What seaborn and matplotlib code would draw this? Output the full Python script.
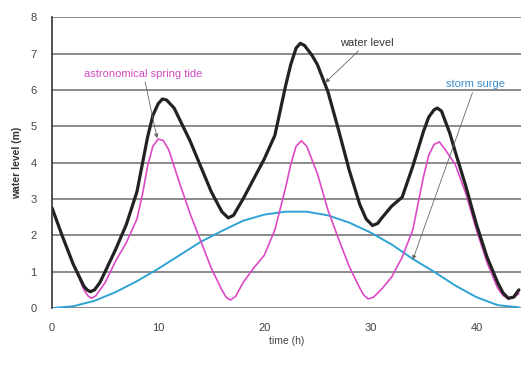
import matplotlib
matplotlib.use("Agg")
import matplotlib.pyplot as plt
import seaborn as sns
import pandas as pd

# ---- data ----
hours_tide = [0, 1, 2, 3, 3.4, 3.7, 4.1, 5, 6, 7, 8, 8.5, 9, 9.5, 10, 10.5, 11, 12, 13, 14, 15, 16, 16.4, 16.8, 17.3,
              18, 19, 20, 21, 22, 22.5, 23, 23.5, 24, 25, 26, 27, 28, 29, 29.4, 29.8, 30.3,
              31, 32, 33, 34, 35, 35.5, 36, 36.5, 37, 38, 39, 40, 41, 42, 42.5, 43, 43.5, 44]
tide = [2.75, 1.95, 1.2, 0.5, 0.33, 0.27, 0.33, 0.7, 1.3, 1.8, 2.45, 3.1, 3.9, 4.45, 4.65, 4.6, 4.35, 3.45, 2.6, 1.85, 1.1, 0.5, 0.3, 0.22, 0.32,
        0.7, 1.1, 1.45, 2.15, 3.3, 3.95, 4.45, 4.6, 4.45, 3.7, 2.7, 1.9, 1.15, 0.55, 0.35, 0.25, 0.3,
        0.5, 0.85, 1.4, 2.15, 3.6, 4.2, 4.5, 4.57, 4.38, 3.95, 3.15, 2.15, 1.25, 0.55, 0.35, 0.25, 0.28, 0.4]

hours_level = [0, 1, 2, 3, 3.3, 3.6, 4.0, 4.5, 5, 6, 7, 8, 9, 9.5, 10, 10.4, 10.8, 11.5, 12, 13, 14, 15, 16, 16.6, 17.1,
               17.5, 18, 19, 20, 21, 22, 22.5, 23, 23.4, 23.8, 24.5, 25, 26, 27, 28, 29, 29.6, 30.2, 30.7,
               31, 32, 33, 34, 35, 35.5, 36, 36.3, 36.7, 37.5, 38, 39, 40, 41, 42, 42.5, 43, 43.5, 44]
level = [2.75, 1.95, 1.2, 0.6, 0.5, 0.45, 0.5, 0.7, 1.0, 1.62, 2.3, 3.2, 4.7, 5.3, 5.62, 5.75, 5.72, 5.5, 5.2, 4.6, 3.9, 3.2, 2.65, 2.48, 2.55,
         2.75, 3.0, 3.55, 4.1, 4.75, 6.1, 6.7, 7.15, 7.28, 7.22, 6.95, 6.7, 5.95, 4.9, 3.8, 2.85, 2.45, 2.27, 2.33,
         2.45, 2.8, 3.05, 3.9, 4.85, 5.25, 5.45, 5.5, 5.42, 4.8, 4.3, 3.35, 2.3, 1.4, 0.7, 0.42, 0.27, 0.3, 0.5]

hours_surge = [0, 2, 4, 6, 8, 10, 12, 14, 16, 18, 20, 22, 24, 26, 28, 30, 32, 34, 36, 38, 40, 42, 44]
surge = [0, 0.05, 0.2, 0.44, 0.74, 1.08, 1.45, 1.82, 2.12, 2.4, 2.57, 2.65, 2.65, 2.55, 2.35, 2.08,
         1.75, 1.35, 1.0, 0.62, 0.3, 0.08, 0.02]

x_ticks = [0, 10, 20, 30, 40]
y_ticks = [0, 1, 2, 3, 4, 5, 6, 7, 8]
x_label = "time (h)"
y_label = "water level (m)"
label_tide = "astronomical spring tide"
label_level = "water level"
label_surge = "storm surge"

sns.set_style("white")
plt.rcParams["font.family"] = ["Liberation Sans", "DejaVu Sans"]

df_tide = pd.DataFrame({"t": hours_tide, "v": tide})
df_level = pd.DataFrame({"t": hours_level, "v": level})
df_surge = pd.DataFrame({"t": hours_surge, "v": surge})

fig = plt.figure(figsize=(5.21, 3.65), dpi=100)
ax = fig.add_axes([0.1, 0.156, 0.9, 0.797])

ax.set_axisbelow(True)
ax.yaxis.grid(True, color="#8a8a8a", linewidth=1.4)
ax.xaxis.grid(False)

sns.lineplot(data=df_surge, x="t", y="v", ax=ax, color="#2fa3d3", linewidth=1.4, sort=False)
sns.lineplot(data=df_tide, x="t", y="v", ax=ax, color="#dd48c6", linewidth=1.2, sort=False)
sns.lineplot(data=df_level, x="t", y="v", ax=ax, color="#222222", linewidth=2.3, sort=False)

ax.set_xlim(0, 44.2)
ax.set_ylim(0, 8)
ax.set_xticks(x_ticks)
ax.set_yticks(y_ticks)
ax.tick_params(axis="both", labelsize=8, colors="#444444", length=3, width=0.8, pad=8)
ax.set_xlabel(x_label, fontsize=7.5, color="#444444", labelpad=2)
ax.set_ylabel(y_label, fontsize=7.5, color="#333333", labelpad=6, fontweight="bold")

for s in ["top", "right", "bottom"]:
    ax.spines[s].set_visible(False)
ax.spines["left"].set_color("#333333")
ax.spines["left"].set_linewidth(1.2)

arrow = dict(arrowstyle="-|>", color="#666666", lw=0.6, mutation_scale=6,
             shrinkA=0, shrinkB=0)
ax.annotate(label_tide, xy=(9.9, 4.67), xytext=(8.6, 6.45), color="#d04cc0",
            fontsize=8, ha="center", va="center", arrowprops=arrow)
ax.annotate(label_level, xy=(25.75, 6.2), xytext=(29.7, 7.3), color="#333333",
            fontsize=8, ha="center", va="center", arrowprops=arrow)
ax.annotate(label_surge, xy=(34.0, 1.33), xytext=(39.9, 6.15), color="#3a8fd0",
            fontsize=8, ha="center", va="center", arrowprops=arrow)

fig.savefig("out.png", dpi=100)
